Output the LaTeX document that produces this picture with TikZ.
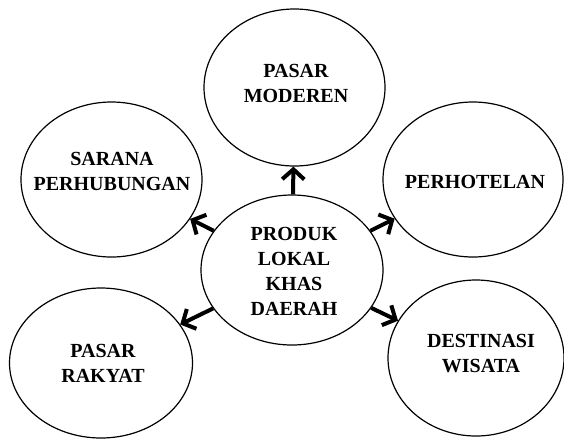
\documentclass[tikz,border=0pt]{standalone}
\usepackage{fontspec}
\setmainfont{Liberation Serif}
\usetikzlibrary{shapes.geometric,arrows.meta}

\begin{document}
\begin{tikzpicture}[x=1pt,y=-1pt,
	bubble/.style={draw,ellipse,line width=1.2pt,inner sep=0pt},
	txt/.style={font=\fontsize{20}{25}\selectfont\bfseries,align=center,inner sep=0pt},
	link/.style={line width=4pt,-{Straight Barb[length=10pt,width=22pt]}}]

\useasboundingbox (0,0) rectangle (564,440);

% the six bubbles
\node[bubble,minimum width=182pt,minimum height=150pt] (produk) at (292,270) {};
\node[bubble,minimum width=181pt,minimum height=157pt] (moderen) at (294.5,87.5) {};
\node[bubble,minimum width=180pt,minimum height=155pt] (hotel) at (473,179.5) {};
\node[bubble,minimum width=176pt,minimum height=156pt] (wisata) at (476,358) {};
\node[bubble,minimum width=183pt,minimum height=150pt] (rakyat) at (101,363) {};
\node[bubble,minimum width=181pt,minimum height=155pt] (sarana) at (111.5,179.5) {};

% their texts
\node[txt] (produkT) at (294,271) {PRODUK\\LOKAL\\KHAS\\DAERAH};
\node[txt] (moderenT) at (296,83) {PASAR\\MODEREN};
\node[txt] (hotelT) at (475,182) {PERHOTELAN};
\node[txt] (wisataT) at (481,354) {DESTINASI\\WISATA};
\node[txt] (rakyatT) at (103,363) {PASAR\\RAKYAT};
\node[txt] (saranaT) at (112,171) {SARANA\\PERHUBUNGAN};

% arrows out of the centre
\foreach \to in {moderen,hotel,wisata,rakyat,sarana}{
	\draw[link] (produk) -- (\to);
}

\end{tikzpicture}
\end{document}
